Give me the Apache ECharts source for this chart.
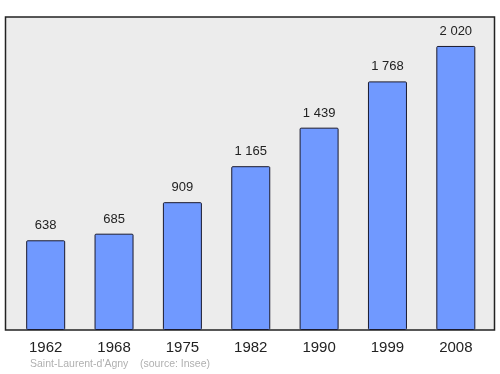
<!DOCTYPE html>
<html><head><meta charset="utf-8">
<script src="https://cdn.jsdelivr.net/npm/echarts@6/dist/echarts.min.js"></script>
<style>html,body{margin:0;padding:0;background:#fff}#c{width:500px;height:374px}</style>
</head><body><div id="c"></div>
<script>
const years = ['1962','1968','1975','1982','1990','1999','2008'];
const population = [638, 685, 909, 1165, 1439, 1768, 2020];
const caption = "Saint-Laurent-d'Agny    (source: Insee)";

function fmt(v){ return String(v).replace(/\B(?=(\d{3})+(?!\d))/g, ' '); }

const chart = echarts.init(document.getElementById('c'), null, {renderer:'canvas'});
chart.setOption({
  animation:false,
  graphic:[
    {type:'rect', z:-10, shape:{x:5.5,y:17,width:489,height:313}, style:{fill:'#ececec', stroke:'#222', lineWidth:1.5}},
    {type:'text', left:30, top:358.5, style:{text:caption, fill:'#b0b0b0', font:'10.5px "Liberation Sans", Arial, sans-serif'}}
  ],
  grid:{left:11.5, right:10, top:17, bottom:44},
  xAxis:{type:'category', data:years, axisLine:{show:false}, axisTick:{show:false},
    axisLabel:{color:'#222', fontSize:15, fontFamily:'"Liberation Sans", Arial, sans-serif', margin:10}},
  yAxis:{type:'value', min:0, max:2226, show:false, splitLine:{show:false}},
  series:[{type:'bar', data:population, barWidth:39,
    itemStyle:{color:'#7099ff', borderColor:'#1a1a2e', borderWidth:1, borderRadius:1},
    label:{show:true, position:'top', distance:8, color:'#222', fontSize:13,
      fontFamily:'"Liberation Sans", Arial, sans-serif', formatter:p=>fmt(p.value)}
  }]
});
</script></body></html>
